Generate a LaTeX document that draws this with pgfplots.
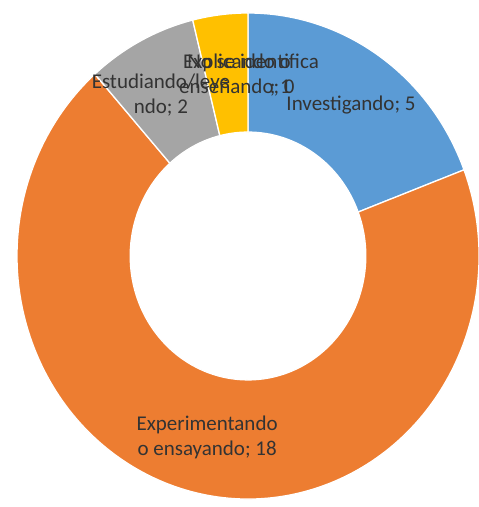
\documentclass[border=0pt]{standalone}
\usepackage{pgfplots}
\pgfplotsset{compat=1.18}
\usepackage{pgfplotstable}
\usepackage{fontspec}
\setmainfont{Carlito}

\definecolor{slice0}{HTML}{5B9BD5}
\definecolor{slice1}{HTML}{ED7D31}
\definecolor{slice2}{HTML}{A5A5A5}
\definecolor{slice3}{HTML}{FFC000}
\definecolor{slice4}{HTML}{4472C4}
\definecolor{labeltext}{HTML}{333333}

\pgfplotstableread[col sep=comma]{
label,value
Investigando,5
Experimentando o ensayando,18
Estudiando/leyendo,2
No se identifica,1
Explicando o enseñando,0
}\donutdata

% ring radii in axis units and the size of one axis unit
\def\rout{1}
\def\rin{0.51}
\def\ux{231pt}
\def\uy{243pt}

\begin{document}
\begin{tikzpicture}
% total of all values
\gdef\total{0}
\foreach \i in {0,...,4}{%
  \pgfplotstablegetelem{\i}{value}\of\donutdata
  \pgfmathsetmacro\t{\total+\pgfplotsretval}%
  \global\let\total\t
}
% start and end angle of each slice, clockwise from the top
\gdef\cum{0}
\foreach \i in {0,...,4}{%
  \pgfplotstablegetelem{\i}{value}\of\donutdata
  \let\v\pgfplotsretval
  \pgfmathsetmacro\s{90-360*\cum/\total}%
  \pgfmathsetmacro\e{90-360*(\cum+\v)/\total}%
  \expandafter\xdef\csname sliceS\i\endcsname{\s}%
  \expandafter\xdef\csname sliceE\i\endcsname{\e}%
  \pgfmathsetmacro\c{\cum+\v}%
  \global\let\cum\c
}
\begin{axis}[
  scale only axis,
  width=478pt, height=507pt,
  xmin=-1.07359, xmax=0.99567,
  ymin=-1.03292, ymax=1.05350,
  hide axis,
  clip=false,
]
\coordinate (bl) at (rel axis cs:0,0);
\coordinate (tr) at (rel axis cs:1,1);
\pgfplotsinvokeforeach{0,...,3}{
  \filldraw[fill=slice#1, draw=white, line width=1.3pt, line join=round]
    (axis cs:{\rout*cos(\csname sliceS#1\endcsname)},{\rout*sin(\csname sliceS#1\endcsname)})
    arc[start angle=\csname sliceS#1\endcsname, end angle=\csname sliceE#1\endcsname,
        x radius=\rout*\ux, y radius=\rout*\uy]
    -- (axis cs:{\rin*cos(\csname sliceE#1\endcsname)},{\rin*sin(\csname sliceE#1\endcsname)})
    arc[start angle=\csname sliceE#1\endcsname, end angle=\csname sliceS#1\endcsname,
        x radius=\rin*\ux, y radius=\rin*\uy]
    -- cycle;
}
\tikzset{lbl/.style={text=labeltext, font=\fontsize{21}{25}\selectfont, inner sep=0pt}}
\node[lbl, align=center] at (axis cs:0.446,0.621) {Investigando; 5};
\node[lbl, align=center] at (axis cs:-0.177,-0.747) {Experimentando\\o ensayando; 18};
\node[lbl, align=center] at (axis cs:-0.377,0.662) {Estudiando/leye\\ndo; 2};
\node[lbl, align=center] at (axis cs:-0.048,0.745) {Explicando o\\enseñando; 0};
\node[lbl, align=right] at (axis cs:0.022,0.745) {No se identifica\\; 1\hspace*{28pt}};
\end{axis}
\pgfresetboundingbox
\path (bl) rectangle (tr);
\end{tikzpicture}
\end{document}
